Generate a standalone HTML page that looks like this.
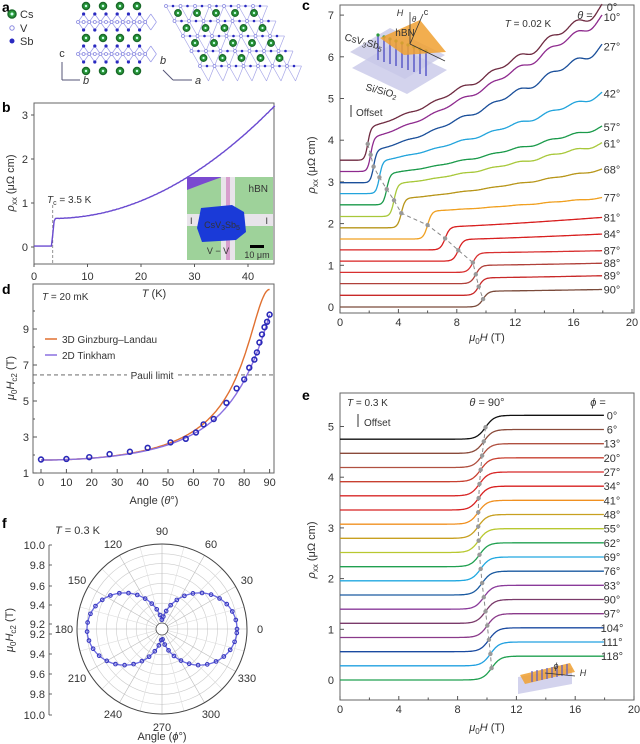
<!DOCTYPE html>
<html><head><meta charset="utf-8">
<style>
html,body{margin:0;padding:0;background:#fff;}
svg{display:block;font-family:"Liberation Sans",Arial,sans-serif;}
</style></head>
<body>
<svg id="s" width="640" height="744" viewBox="0 0 640 744" xmlns="http://www.w3.org/2000/svg"></svg>
<script>
var o='';
function A(s){o+=s;}
function T(x,y,t,sz,anch,extra){A('<text x="'+x+'" y="'+y+'" font-size="'+(sz||11)+'" text-anchor="'+(anch||'middle')+'" fill="#333" '+(extra||'')+'>'+t+'</text>');}
function L(x1,y1,x2,y2,c,w,d){A('<line x1="'+x1+'" y1="'+y1+'" x2="'+x2+'" y2="'+y2+'" stroke="'+(c||'#555')+'" stroke-width="'+(w||1)+'"'+(d?' stroke-dasharray="'+d+'"':'')+'/>');}
function P(pts,c,w,d){var s='M'+pts.map(function(p){return p[0].toFixed(1)+','+p[1].toFixed(1)}).join('L');A('<path d="'+s+'" fill="none" stroke="'+c+'" stroke-width="'+(w||1.3)+'"'+(d?' stroke-dasharray="'+d+'"':'')+'/>');}
function C(x,y,r,f,s,w){A('<circle cx="'+x+'" cy="'+y+'" r="'+r+'" fill="'+f+'" stroke="'+(s||'none')+'" stroke-width="'+(w||1)+'"/>');}
function B(t,x,y){A('<text x="'+x+'" y="'+y+'" font-size="14" font-weight="bold" fill="#000">'+t+'</text>');}

/* ---------- panel a ---------- */
B('a',2,12);
C(12,14,4,'#2a9a3a','#1a6a2a',1.5);C(12,14,1.5,'#cfe');T(20,18,'Cs',11,'start');
C(12,28,2.2,'#fff','#8a8ae0',1);T(20,32,'V',11,'start');
C(12,41,2.5,'#2a2ac0');T(20,45,'Sb',11,'start');
L(62,80,62,62,'#557',1);L(62,80,80,80,'#557',1);T(62,57,'c',11);T(86,84,'b',11,'middle','font-style="italic"');
[6,38,71].forEach(function(y){[86,103,120,137].forEach(function(x){C(x,y,3.5,'#2a9a3a','#1a6a2a',1.5);C(x,y,1.2,'#cfe');});});
[[14,22,30],[46,54,62]].forEach(function(r){
 var pts=[];for(var x=78;x<=146;x+=5.6){pts.push([x,r[1]]);}
 P(pts,'#9a9ae8',0.8);
 for(var x=78;x<=146;x+=11.2){L(x,r[1],x+5.6,r[0],'#9a9ae8',0.7);L(x+5.6,r[0],x+11.2,r[1],'#9a9ae8',0.7);L(x,r[1],x+5.6,r[2],'#9a9ae8',0.7);L(x+5.6,r[2],x+11.2,r[1],'#9a9ae8',0.7);}
 for(var x=78;x<=146;x+=5.6){C(x,r[1],1.5,'#fff','#8a8ae0',0.8);}
 for(var x=83.6;x<=146;x+=11.2){C(x,r[0],1.6,'#2a2ac0');C(x,r[2],1.6,'#2a2ac0');}
});
for(var j=0;j<5;j++){var y=6+j*15;for(var i=0;i<7;i++){var x=166+i*14.5+j*8.5;
 L(x,y,x+14.5,y,'#a8a8e8',0.7);L(x,y,x+8.5,y+15,'#a8a8e8',0.7);L(x+14.5,y,x+8.5,y+15,'#a8a8e8',0.7);
 C(x,y,1.5,'#fff','#8a8ae0',0.8);C(x+7,y,1.3,'#2a2ac0');}}
for(var j=0;j<4;j++){var y=13+j*15;for(var i=0;i<5;i++){var x=178+i*19+j*8.5;C(x,y,3.3,'#2a9a3a','#1a6a2a',1.3);C(x,y,1.1,'#cfe');}}
L(173,80,192,80,'#557',1);L(173,80,163,70,'#557',1);T(163,64,'b',11,'middle','font-style="italic"');T(198,84,'a',11,'middle','font-style="italic"');

/* ---------- panel b ---------- */
B('b',2,112);
function bx(t){return 34+t*5.35;} function by(v){return 247-v*44;}
A('<rect x="34" y="103" width="240" height="161" fill="none" stroke="#666" stroke-width="1"/>');
[0,10,20,30,40].forEach(function(t){L(bx(t),264,bx(t),267);T(bx(t),280,t,11);});
[0,1,2,3].forEach(function(v){L(31,by(v),34,by(v));T(28,by(v)+4,v,11,'end');});
T(154,297,'<tspan font-style="italic">T</tspan> (K)',11);
T(0,0,'<tspan font-style="italic">ρ</tspan><tspan font-size="8" dy="3">xx</tspan><tspan dy="-3"> (μΩ cm)</tspan>',11,'middle','transform="translate(14,183) rotate(-90)"');
L(bx(3.5),205,bx(3.5),264,'#777',0.8,'3,2');
T(47,203,'<tspan font-style="italic">T</tspan><tspan font-size="7" dy="2">c</tspan><tspan dy="-2"> = 3.5 K</tspan>',10,'start');
var pts=[];for(var t=0;t<=45;t+=0.25){var v;if(t<3.3)v=0.02;else if(t<3.8)v=0.02+(t-3.3)/0.5*0.63;else v=0.65+0.0015*Math.pow(t-3.7,2)+0.003*Math.sin(t*9);pts.push([bx(t),by(v)]);}
P(pts,'#6a4ad0',1.4);
A('<rect x="187" y="177" width="86" height="83" fill="#9ed29a"/>');
A('<path d="M187,177 L222,177 Q205,183 187,190 Z" fill="#7a4ad0"/>');
A('<rect x="221" y="177" width="14" height="83" fill="#e8e4ea"/><rect x="187" y="214" width="86" height="12" fill="#e8e4ea"/>');
A('<rect x="226" y="177" width="4" height="83" fill="#d080c0" opacity="0.7"/>');
A('<path d="M201,208 L232,205 L244,212 L246,232 L236,240 L202,242 L197,228 Z" fill="#1a3ad8"/>');
T(222,228,'CsV<tspan font-size="7" dy="2">3</tspan><tspan dy="-2">Sb</tspan><tspan font-size="7" dy="2">5</tspan>',9,'middle','fill="#ddd"');
T(268,192,'hBN',10,'end');T(190,224,'I',9,'start');T(268,224,'I',9,'end');T(218,254,'V − V',9,'middle');
A('<rect x="250" y="245" width="14" height="3" fill="#000"/>');T(257,258,'10 μm',9,'middle','fill="#111"');

/* ---------- panel c ---------- */
B('c',302,10);
function cx(h){return 340+h*14.6;} function cy(v){return 307-v*41.7;}
A('<rect x="340" y="5" width="294" height="308" fill="none" stroke="#666"/>');
[0,4,8,12,16,20].forEach(function(h){L(cx(h),313,cx(h),309);T(cx(h),326,h,11);});
[2,6,10,14,18].forEach(function(h){L(cx(h),313,cx(h),310.5);});
[0,1,2,3,4,5,6,7].forEach(function(v){L(340,cy(v),344,cy(v));T(334,cy(v)+4,v,11,'end');});
T(487,341,'<tspan font-style="italic">μ</tspan><tspan font-size="8" dy="3">0</tspan><tspan dy="-3" font-style="italic">H</tspan> (T)',11);
T(0,0,'<tspan font-style="italic">ρ</tspan><tspan font-size="8" dy="3">xx</tspan><tspan dy="-3"> (μΩ cm)</tspan>',11,'middle','transform="translate(315,165) rotate(-90)"');
var cd=[['0°',3.52,1.7,4.3,7.2,'#6e2a40',0.03],['10°',3.25,1.9,4.05,6.95,'#8e2a8e',0.025],['27°',2.98,2.1,3.75,6.25,'#1a4f9a',0.025],['42°',2.72,2.5,3.5,5.12,'#22a4dc',0.015],['57°',2.45,3.0,3.2,4.32,'#1a9a4a',0.01],['61°',2.17,3.5,2.95,3.92,'#a8c83a',0.01],['68°',1.9,4.0,2.6,3.3,'#b8961a',0.005],['77°',1.63,5.8,2.3,2.62,'#f0a020',0.003],['81°',1.37,7.0,1.92,2.15,'#d82020',0],['84°',1.1,7.9,1.62,1.75,'#d82020',0],['87°',0.83,8.9,1.3,1.35,'#d83030',0],['88°',0.56,9.1,1.0,1.05,'#b0403a',0],['89°',0.28,9.3,0.7,0.75,'#c82828',0],['90°',0,9.6,0.38,0.42,'#7a4a3a',0]];
var mids=[];
cd.forEach(function(d){var pts=[];var hc=d[2],w=0.18+hc*0.02;
 for(var h=0;h<=18;h+=0.05){var n;if(h<hc)n=d[3];else{var u=(h-hc)/(18-hc);n=d[3]+(d[4]-d[3])*Math.pow(u,1.25)+d[6]*(Math.sin(h*3.2)+0.6*Math.sin(h*1.7+1))*u*3;}
 var s=0.5*(1+Math.tanh((h-hc-0.2)/w));pts.push([cx(h),cy(d[1]+(n-d[1])*s)]);}
 P(pts,d[5],1.3);mids.push([cx(hc+0.2),cy((d[1]+d[3])/2)]);
 T(612,cy(d[4])+4,d[0],11,'middle');});
P(mids,'#888',1,'4,3');mids.forEach(function(m){C(m[0],m[1],2.2,'#999');});
T(585,19,'<tspan font-style="italic">θ</tspan> =',11,'middle');
T(528,27,'<tspan font-style="italic">T</tspan> = 0.02 K',10,'middle');
A('<path d="M350,52 L390,28 L445,55 L405,79 Z" fill="#a8a8d8" opacity="0.5"/>');
A('<path d="M352,68 L392,44 L447,70 L407,94 Z" fill="#c8c8e8" opacity="0.8"/>');
for(var i=0;i<9;i++){L(378+i*6,35+i*2,378+i*6,60+i*2,'#5a5ac8',1.5);C(378+i*6,35+i*2,1.6,'#2a9a3a');}
A('<path d="M380,38 L420,20 L446,52 L404,55 Z" fill="#f0a030" opacity="0.85"/>');
T(405,36,'hBN',10,'middle');
L(410,44,410,12,'#333',0.8);L(410,44,423,14,'#333',0.8);L(410,44,445,61,'#333',0.8);
T(400,16,'<tspan font-style="italic">H</tspan>',9);T(426,15,'c',9);T(414,22,'θ',8,'middle','font-style="italic"');
T(344,40,'CsV<tspan font-size="7" dy="2">3</tspan><tspan dy="-2">Sb</tspan><tspan font-size="7" dy="2">5</tspan>',10,'start','transform="rotate(15 344 40)"');
T(365,90,'Si/SiO<tspan font-size="7" dy="2">2</tspan>',10,'start','transform="rotate(15 365 90)"');
L(351,117,351,105,'#333',1);T(356,116,'Offset',10,'start');

/* ---------- panel d ---------- */
B('d',2,294);
function dx(a){return 41+a*2.54;} function dy(h){return 473-(h-1)*18;}
A('<rect x="33" y="284" width="241" height="189" fill="none" stroke="#666"/>');
[0,10,20,30,40,50,60,70,80,90].forEach(function(a){L(dx(a),473,dx(a),469);T(dx(a),486,a,11);});
[1,3,5,7,9].forEach(function(h){L(33,dy(h),37,dy(h));T(29,dy(h)+4,h,11,'end');});
[2,4,6,8,10].forEach(function(h){L(33,dy(h),35,dy(h));});
T(154,504,'Angle (<tspan font-style="italic">θ</tspan>°)',11);
T(0,0,'<tspan font-style="italic">μ</tspan><tspan font-size="8" dy="3">0</tspan><tspan dy="-3" font-style="italic">H</tspan><tspan font-size="8" dy="3">c2</tspan><tspan dy="-3"> (T)</tspan>',11,'middle','transform="translate(14,378) rotate(-90)"');
L(33,dy(6.45),127,dy(6.45),'#555',0.9,'4,3');L(178,dy(6.45),274,dy(6.45),'#555',0.9,'4,3');T(152,dy(6.45)+4,'Pauli limit',10);
T(42,300,'<tspan font-style="italic">T</tspan> = 20 mK',10,'start');
L(45,339,57,339,'#e07030',1.5);T(62,343,'3D Ginzburg–Landau',10,'start');
L(45,355,57,355,'#8a70e0',1.5);T(62,359,'2D Tinkham',10,'start');
var gl=[],tk=[];for(var a=0;a<=90;a+=0.5){var r=a*Math.PI/180,c=Math.cos(r),s=Math.sin(r);
 var hg=1/Math.sqrt(c*c/(1.72*1.72)+s*s/(11.2*11.2));if(hg<=11.5)gl.push([dx(a),dy(hg)]);
 var qa=s*s/(9.8*9.8),qb=c/1.72,ht=qa>1e-9?(-qb+Math.sqrt(qb*qb+4*qa))/(2*qa):1/qb;tk.push([dx(a),dy(ht)]);}
P(gl,'#e07030',1.4);P(tk,'#8a70e0',1.4);
[[0,1.75],[10,1.78],[19,1.88],[27,2.05],[35,2.18],[42,2.4],[51,2.7],[57,2.9],[61,3.25],[64,3.7],[68,4.0],[73,4.9],[77,5.7],[80,6.2],[82,6.85],[84,7.3],[85,7.7],[86,8.25],[87,8.7],[88,9.1],[89,9.4],[90,9.8]].forEach(function(p){C(dx(p[0]),dy(p[1]),2.4,'none','#2a2ab8',1.6);});

/* ---------- panel f ---------- */
B('f',2,528);
T(55,534,'<tspan font-style="italic">T</tspan> = 0.3 K',11,'start');
var fx=162,fy=629;function fr(v){return 6+(v-9.2)*99;}
for(var k=1;k<=8;k++){C(fx,fy,fr(9.2+k*0.1),'none','#ccc',0.6);}
for(var a=0;a<360;a+=15){var r=a*Math.PI/180;L(fx+6*Math.cos(r),fy-6*Math.sin(r),fx+85*Math.cos(r),fy-85*Math.sin(r),a%30?'#ddd':'#bbb',0.6);}
C(fx,fy,85,'none','#444',1);C(fx,fy,6,'#fff','#444',0.8);
for(var a=0;a<360;a+=30){var r=a*Math.PI/180;T((fx+98*Math.cos(r)).toFixed(1),(fy-98*Math.sin(r)+4).toFixed(1),a,11);}
var fp=[];for(var a=0;a<=360;a+=2){var r=a*Math.PI/180,R=9+66*Math.pow(Math.abs(Math.cos(r)),1.3);fp.push([fx+R*Math.cos(r),fy-R*Math.sin(r)]);}
P(fp,'#6a6ae0',1.3);
for(var a=0;a<360;a+=7){var r=a*Math.PI/180,R=9+66*Math.pow(Math.abs(Math.cos(r)),1.3);C(fx+R*Math.cos(r),fy-R*Math.sin(r),1.8,'none','#3a3ac0',1.1);}
L(49,545,49,715,'#444',0.8);
[[10.0,545],[9.8,565],[9.6,586],[9.4,605],[9.2,624],[9.2,634],[9.4,654],[9.6,674],[9.8,694],[10.0,715]].forEach(function(p){L(49,p[1],52,p[1],'#444',0.8);T(45,p[1]+4,p[0].toFixed(1),11,'end');});
T(0,0,'<tspan font-style="italic">μ</tspan><tspan font-size="8" dy="3">0</tspan><tspan dy="-3" font-style="italic">H</tspan><tspan font-size="8" dy="3">c2</tspan><tspan dy="-3"> (T)</tspan>',11,'middle','transform="translate(13,630) rotate(-90)"');
T(162,740,'Angle (<tspan font-style="italic">ϕ</tspan>°)',11);

/* ---------- panel e ---------- */
B('e',302,400);
function ex(h){return 340+h*14.7;} function ey(v){return 680-v*50.7;}
A('<rect x="340" y="393" width="294" height="307" fill="none" stroke="#666"/>');
[0,4,8,12,16,20].forEach(function(h){L(ex(h),700,ex(h),696);T(ex(h),713,h,11);});
[2,6,10,14,18].forEach(function(h){L(ex(h),700,ex(h),697.5);});
[0,1,2,3,4,5].forEach(function(v){L(340,ey(v),344,ey(v));T(334,ey(v)+4,v,11,'end');});
T(487,731,'<tspan font-style="italic">μ</tspan><tspan font-size="8" dy="3">0</tspan><tspan dy="-3" font-style="italic">H</tspan> (T)',11);
T(0,0,'<tspan font-style="italic">ρ</tspan><tspan font-size="8" dy="3">xx</tspan><tspan dy="-3"> (μΩ cm)</tspan>',11,'middle','transform="translate(315,550) rotate(-90)"');
var ec=['#111','#8a4a3a','#b05040','#c84030','#d82828','#d82020','#f09020','#c8a020','#b8c830','#20a050','#20a8e0','#1a5aa0','#8a3a9a','#7a3a6a','#8a3a8a','#1a4aa0','#20a0e0','#20a050'];
var ph=[0,6,13,20,27,34,41,48,55,62,69,76,83,90,97,104,111,118];
var em=[];
ph.forEach(function(p,i){var base=4.75-i*0.2794;var hc=9.9-0.5*Math.sin(Math.PI*i/13);var pts=[];
 for(var h=0;h<=18;h+=0.05){var s=0.5*(1+Math.tanh((h-hc)/0.6));pts.push([ex(h),ey(base+0.47*s)]);}
 P(pts,ec[i],1.3);em.push([ex(hc),ey(base+0.235)]);T(612,ey(base+0.47)+4,p+'°',11);});
P(em,'#888',1,'4,3');em.forEach(function(m){C(m[0],m[1],2.2,'#999');});
T(487,406,'<tspan font-style="italic">θ</tspan> = 90°',11);T(598,406,'<tspan font-style="italic">ϕ</tspan> =',11);
T(347,406,'<tspan font-style="italic">T</tspan> = 0.3 K',10,'start');
L(358,427,358,414,'#333',1);T(364,426,'Offset',10,'start');
A('<path d="M518,677 L572,668 L572,684 L518,694 Z" fill="#c8c8e8" opacity="0.8"/>');
A('<path d="M520,675 L570,663 L575,672 L525,684 Z" fill="#f0a030" opacity="0.85"/>');
for(var i=0;i<8;i++){L(532+i*5,671-i,532+i*5,682-i,'#5a5ac8',1.2);}
L(545,673,575,676,'#333',0.8);T(556,669,'ϕ',9,'middle','font-style="italic"');T(583,676,'H',9,'middle','font-style="italic"');

document.getElementById('s').innerHTML=o;
</script>
</body></html>
